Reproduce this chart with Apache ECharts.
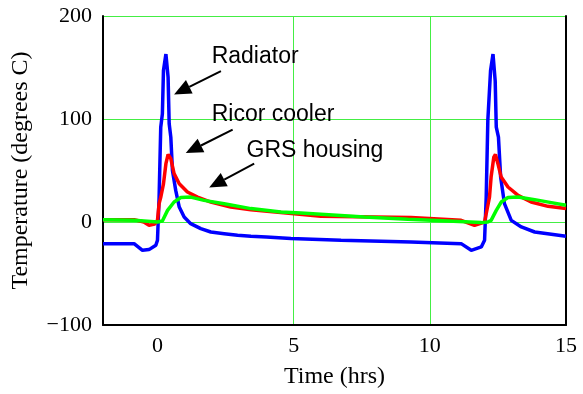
<!DOCTYPE html>
<html>
<head>
<meta charset="utf-8">
<script src="https://cdn.jsdelivr.net/npm/echarts@6/dist/echarts.min.js"></script>
<style>
  html, body { margin: 0; padding: 0; background: #fff; }
  #main { width: 583px; height: 394px; }
</style>
</head>
<body>
<div id="main"></div>
<script>
// time in hrs, temperature in degrees C
const radiatorTime = [-2, -0.86, -0.55, -0.31, -0.06, 0, 0.06, 0.12, 0.18, 0.22, 0.31, 0.39, 0.43, 0.49, 0.55, 0.67, 0.8, 0.98, 1.22, 1.59, 1.96, 2.45, 2.94, 3.43, 4.0, 4.9, 6.74, 9.31, 11.15, 11.52, 11.89, 12.01, 12.07, 12.13, 12.23, 12.32, 12.4, 12.44, 12.52, 12.6, 12.74, 12.99, 13.36, 13.85, 14.46, 15];
const radiatorTemp = [-21, -21, -27.5, -26.8, -22.6, -17.7, 24, 92, 105, 147, 163, 140.6, 95.4, 82.4, 50, 30.7, 14.5, 4.8, -1.6, -6.4, -9.7, -11.3, -12.9, -13.9, -14.5, -16.1, -17.7, -19.4, -21, -27.5, -24.2, -17.7, 24, 98.6, 147, 163, 137, 92, 82.4, 43.6, 17.8, 1.6, -4.8, -9.7, -11.9, -13.9];

const ricorTime = [-2, -0.86, -0.5, -0.31, -0.1, 0, 0.06, 0.12, 0.22, 0.31, 0.39, 0.49, 0.61, 0.8, 1.1, 1.47, 1.96, 2.69, 3.43, 5.02, 6, 9.31, 11.15, 11.64, 12.01, 12.19, 12.25, 12.35, 12.41, 12.5, 12.62, 12.87, 13.24, 13.72, 14.34, 15];
const ricorTemp = [2.3, 2.3, 0, -3.2, -2, 1.6, 17.8, 24, 37, 56.6, 65.7, 61.5, 47, 37.2, 29.1, 24.2, 19.4, 14.5, 12, 8.1, 5.5, 4.3, 1.6, -3.2, 0, 24, 43.6, 63, 65.7, 56.6, 43.6, 34, 25.9, 19.4, 15.2, 13];

const grsTime = [-2, -0.86, 0, 0.18, 0.37, 0.61, 0.86, 1.22, 1.71, 2.45, 3.43, 4.53, 5.27, 7.6, 9.19, 10.05, 11.89, 12.13, 12.25, 12.44, 12.62, 12.87, 13.24, 13.85, 14.46, 15];
const grsTemp = [2.3, 1.6, 0, 1, 11.3, 19.4, 23.7, 24.2, 21, 17.8, 13, 9.7, 8.7, 4.8, 2.6, 1.6, -0.6, 0, 1.6, 11.3, 19.4, 23.7, 24.2, 21.7, 18.8, 16.2];

const xTicks = [0, 5, 10, 15];

// annotation text + arrows (data coords)
const noteLabels = ['Radiator', 'Ricor cooler', 'GRS housing'];
const noteTextAt = [[1.99, 160.7], [1.99, 104.5], [3.27, 69.5]];
const arrowFrom = [[2.33, 146.5], [2.76, 89.6], [3.55, 56.6]];
const arrowTo = [[0.61, 123.9], [1.04, 66.9], [1.9, 33.4]];

const zip = (xs, ys) => xs.map((x, i) => [x, ys[i]]);

const serif = 'Liberation Serif';
const chart = echarts.init(document.getElementById('main'));

const lineSeries = (name, xs, ys, color) => ({
  name: name,
  type: 'line',
  data: zip(xs, ys),
  showSymbol: false,
  lineStyle: { color: color, width: 3.5 },
  itemStyle: { color: color },
  silent: true,
});

chart.setOption({
  animation: false,
  grid: { left: 103, right: 17, top: 16, bottom: 69 },
  xAxis: {
    type: 'value',
    min: -2,
    max: 15,
    name: 'Time (hrs)',
    nameLocation: 'middle',
    nameGap: 40,
    nameTextStyle: { fontFamily: serif, fontSize: 24, color: '#000' },
    axisLine: { show: true, onZero: false, lineStyle: { color: '#000', width: 2 } },
    axisTick: { show: false, customValues: xTicks },
    axisLabel: { customValues: xTicks, fontFamily: serif, fontSize: 22, color: '#000', margin: 10 },
    splitLine: { show: true, showMinLine: false, showMaxLine: false, lineStyle: { color: '#44ee44', width: 1 } },
  },
  yAxis: [
    {
      type: 'value',
      min: -100,
      max: 200,
      interval: 100,
      name: 'Temperature (degrees C)',
      nameLocation: 'middle',
      nameGap: 70,
      nameTextStyle: { fontFamily: serif, fontSize: 24, color: '#000' },
      axisLine: { show: true, onZero: false, lineStyle: { color: '#000', width: 2 } },
      axisTick: { show: false },
      axisLabel: {
        fontFamily: serif, fontSize: 22, color: '#000', margin: 11,
        formatter: (v) => (v < 0 ? '\u2212' + Math.abs(v) : String(v)),
      },
      splitLine: { show: true, showMinLine: false, lineStyle: { color: '#44ee44', width: 1 } },
    },
    {
      type: 'value',
      position: 'right',
      min: -100,
      max: 200,
      interval: 100,
      axisLine: { show: true, onZero: false, lineStyle: { color: '#000', width: 2 } },
      axisTick: { show: false },
      axisLabel: { show: false },
      splitLine: { show: false },
    },
  ],
  series: [
    lineSeries('Radiator', radiatorTime, radiatorTemp, '#0000ff'),
    lineSeries('Ricor cooler', ricorTime, ricorTemp, '#ff0000'),
    lineSeries('GRS housing', grsTime, grsTemp, '#00ff00'),
  ],
});

// annotations placed from data coords
const graphics = [];
noteLabels.forEach((txt, i) => {
  const tp = chart.convertToPixel({ gridIndex: 0 }, noteTextAt[i]);
  graphics.push({
    type: 'text',
    x: tp[0],
    y: tp[1],
    style: { text: txt, fontFamily: 'Liberation Sans', fontSize: 23, fill: '#000', align: 'left', verticalAlign: 'middle' },
  });
  const a = chart.convertToPixel({ gridIndex: 0 }, arrowFrom[i]);
  const b = chart.convertToPixel({ gridIndex: 0 }, arrowTo[i]);
  const dx = b[0] - a[0], dy = b[1] - a[1];
  const len = Math.sqrt(dx * dx + dy * dy);
  const ux = dx / len, uy = dy / len;
  const headLen = 17, headHalf = 7.5;
  const bx = b[0] - ux * headLen, by = b[1] - uy * headLen;
  graphics.push({
    type: 'line',
    shape: { x1: a[0], y1: a[1], x2: bx, y2: by },
    style: { stroke: '#000', lineWidth: 2 },
  });
  graphics.push({
    type: 'polygon',
    shape: { points: [[b[0], b[1]], [bx - uy * headHalf, by + ux * headHalf], [bx + uy * headHalf, by - ux * headHalf]] },
    style: { fill: '#000' },
  });
});
chart.setOption({ graphic: graphics });
</script>
</body>
</html>
